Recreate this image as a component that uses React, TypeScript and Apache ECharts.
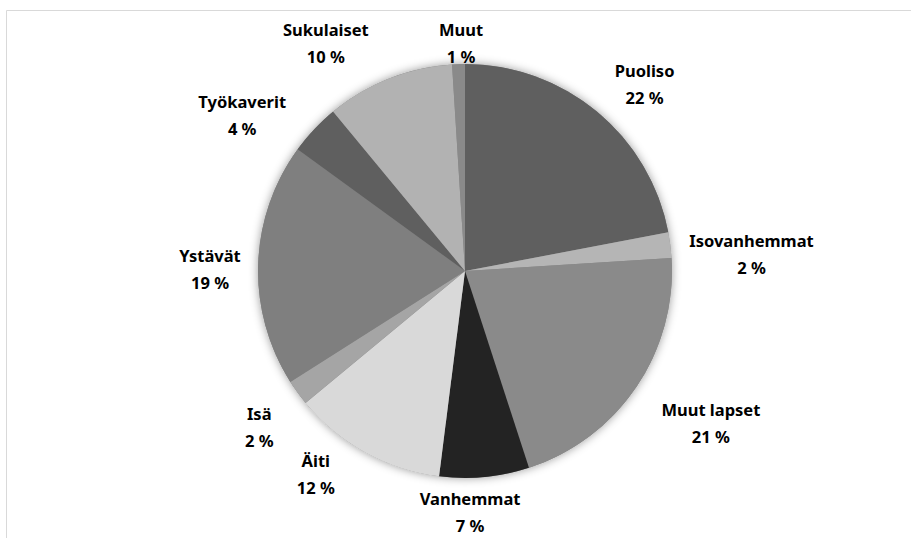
import React, { useEffect, useRef } from "react";
import * as echarts from "echarts";

const categories = ["Puoliso", "Isovanhemmat", "Muut lapset", "Vanhemmat", "Äiti", "Isä", "Ystävät", "Työkaverit", "Sukulaiset", "Muut"];
const values = [22, 2, 21, 7, 12, 2, 19, 4, 10, 1];
const colors = ["#5f5f5f", "#b5b5b5", "#8a8a8a", "#232323", "#d9d9d9", "#a5a5a5", "#7f7f7f", "#5f5f5f", "#b2b2b2", "#8a8a8a"];

// label placement (Excel "best fit"): angular shift (deg) from slice middle and distance beyond the rim (px)
const labelShift = [4.3, 3.8, -2.5, 4.2, 7.5, -1.1, -1.4, -8.2, -9.8, 0.8];
const labelOut = [52, 80, 82, 34, 45, 51, 48, 65, 60, 21];

const CX = 465;
const CY = 271;
const R = 207;

export default function App() {
  const ref = useRef<HTMLDivElement>(null);
  useEffect(() => {
    const chart = echarts.init(ref.current!, null, { renderer: "svg" });
    const total = values.reduce((a, b) => a + b, 0);
    const mids: number[] = [];
    let acc = 0;
    values.forEach((v) => {
      mids.push(((acc + v / 2) / total) * Math.PI * 2);
      acc += v;
    });
    chart.setOption({
      animation: false,
      backgroundColor: "#ffffff",
      graphic: [
        {
          type: "rect",
          shape: { x: 6.5, y: 10.5, width: 920, height: 540 },
          style: { fill: "none", stroke: "#d9d9d9", lineWidth: 1 },
          silent: true,
        },
      ],
      series: [
        {
          type: "pie",
          center: [CX, CY],
          radius: R,
          silent: true,
          z: 1,
          label: { show: false },
          labelLine: { show: false },
          itemStyle: { color: "#888", shadowBlur: 10, shadowColor: "rgba(0,0,0,0.4)" },
          data: [{ value: 1, name: "" }],
        },
        {
          type: "pie",
          center: [CX, CY],
          radius: R,
          startAngle: 90,
          clockwise: true,
          z: 2,
          itemStyle: { borderWidth: 0 },
          label: {
            show: true,
            position: "outside",
            formatter: (p: any) => `${p.name}\n${p.value} %`,
            fontFamily: "Noto Sans",
            fontWeight: "bold",
            fontSize: 16.5,
            lineHeight: 27,
            color: "#000",
            align: "center",
          },
          labelLine: { show: false },
          labelLayout: (p: any) => {
            const i = p.dataIndex;
            const a = mids[i] + (labelShift[i] * Math.PI) / 180;
            const d = R + labelOut[i];
            return { x: CX + d * Math.sin(a), y: CY - d * Math.cos(a), align: "center", verticalAlign: "middle" };
          },
          data: categories.map((c, i) => ({ name: c, value: values[i], itemStyle: { color: colors[i] } })),
        },
      ],
    });
    return () => chart.dispose();
  }, []);
  return <div ref={ref} style={{ position: "fixed", left: 0, top: 0, width: 911, height: 538 }} />;
}
